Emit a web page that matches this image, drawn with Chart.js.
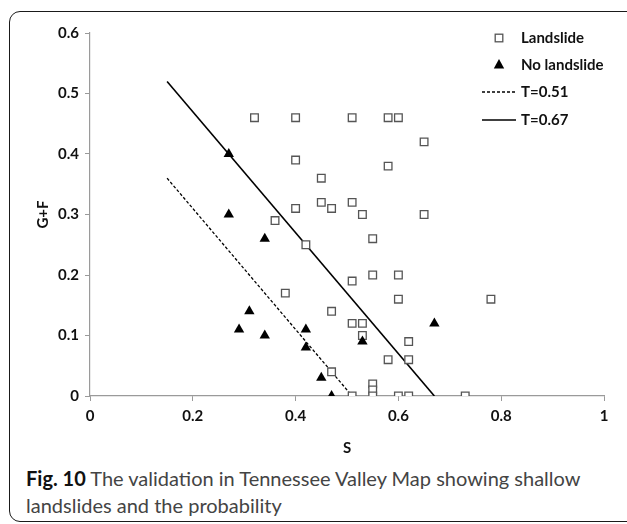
<!DOCTYPE html>
<html>
<head>
<meta charset="utf-8">
<script src="https://cdn.jsdelivr.net/npm/chart.js@4/dist/chart.umd.min.js"></script>
<style>
  html, body { margin: 0; padding: 0; background: #fff; width: 627px; height: 524px; overflow: hidden; }
  #frame { position: absolute; left: 9px; top: 11px; width: 640px; height: 511px; border: 1.5px solid #1a1a1a; border-radius: 11px; box-sizing: border-box; }
  #wrap { position: absolute; left: 0; top: 0; width: 627px; height: 460px; }
  #caption { position: absolute; left: 26px; top: 465px; width: 595px; font-family: Lato, "Open Sans", sans-serif; font-size: 20px; line-height: 27px; color: #444; }
  #caption b { color: #111; font-weight: 700; }
</style>
</head>
<body>
<div id="frame"></div>
<div id="wrap"><canvas id="c" width="627" height="460"></canvas></div>
<div id="caption"><b>Fig. 10</b> The validation in Tennessee Valley Map showing shallow landslides and the probability</div>
<script>
// Observed landslide locations (S, G+F)
const landslideS  = [0.32, 0.40, 0.51, 0.58, 0.60, 0.65, 0.40, 0.58, 0.45, 0.45, 0.51, 0.40, 0.47, 0.53, 0.65, 0.36, 0.55, 0.42, 0.55, 0.60, 0.51, 0.38, 0.60, 0.78, 0.47, 0.51, 0.53, 0.53, 0.62, 0.58, 0.62, 0.47, 0.55, 0.55, 0.51, 0.55, 0.60, 0.62, 0.73];
const landslideGF = [0.46, 0.46, 0.46, 0.46, 0.46, 0.42, 0.39, 0.38, 0.36, 0.32, 0.32, 0.31, 0.31, 0.30, 0.30, 0.29, 0.26, 0.25, 0.20, 0.20, 0.19, 0.17, 0.16, 0.16, 0.14, 0.12, 0.12, 0.10, 0.09, 0.06, 0.06, 0.04, 0.02, 0.01, 0.00, 0.00, 0.00, 0.00, 0.00];

// Locations without landslides
const noLandslideS  = [0.27, 0.27, 0.34, 0.31, 0.29, 0.34, 0.42, 0.42, 0.53, 0.67, 0.45, 0.47];
const noLandslideGF = [0.40, 0.30, 0.26, 0.14, 0.11, 0.10, 0.11, 0.08, 0.09, 0.12, 0.03, 0.00];

// Probability threshold lines
const t051S  = [0.15, 0.51];
const t051GF = [0.36, 0.00];
const t067S  = [0.15, 0.67];
const t067GF = [0.52, 0.00];

// Axis tick values
const xTicks = [0, 0.2, 0.4, 0.6, 0.8, 1];
const yTicks = [0, 0.1, 0.2, 0.3, 0.4, 0.5, 0.6];

const seriesLabels = ['Landslide', 'No landslide', 'T=0.51', 'T=0.67'];

const toPoints = (xs, ys) => xs.map((x, i) => ({ x, y: ys[i] }));
const fmt = v => String(+v.toFixed(1));

const FONT = 'Lato, "Open Sans", sans-serif';
const AXIS = '#9a9a9a';
const tickFont = { family: FONT, size: 15, weight: 'bold' };

// Legend drawn inside the plot area, top right
const insideLegend = {
  id: 'insideLegend',
  afterDraw(chart) {
    const ctx = chart.ctx;
    const mx = 499, tx = 521;
    const rows = [38, 65, 92, 120];
    ctx.save();
    // square marker
    ctx.strokeStyle = '#555';
    ctx.lineWidth = 1.3;
    ctx.fillStyle = '#fff';
    ctx.fillRect(mx - 3.8, rows[0] - 3.8, 7.6, 7.6);
    ctx.strokeRect(mx - 3.8, rows[0] - 3.8, 7.6, 7.6);
    // triangle marker
    ctx.fillStyle = '#000';
    ctx.beginPath();
    ctx.moveTo(mx, rows[1] - 6);
    ctx.lineTo(mx + 5.2, rows[1] + 3.5);
    ctx.lineTo(mx - 5.2, rows[1] + 3.5);
    ctx.closePath();
    ctx.fill();
    // dashed line
    ctx.strokeStyle = '#000';
    ctx.lineWidth = 1.3;
    ctx.setLineDash([3, 2]);
    ctx.beginPath(); ctx.moveTo(482, rows[2]); ctx.lineTo(516, rows[2]); ctx.stroke();
    // solid line
    ctx.setLineDash([]);
    ctx.lineWidth = 1.6;
    ctx.beginPath(); ctx.moveTo(482, rows[3]); ctx.lineTo(516, rows[3]); ctx.stroke();
    // labels
    ctx.fillStyle = '#111';
    ctx.font = 'bold 15px ' + FONT;
    ctx.textAlign = 'left';
    ctx.textBaseline = 'middle';
    seriesLabels.forEach((t, i) => ctx.fillText(t, tx, rows[i]));
    ctx.restore();
  }
};

new Chart(document.getElementById('c'), {
  type: 'scatter',
  data: {
    datasets: [
      {
        label: seriesLabels[0],
        data: toPoints(landslideS, landslideGF),
        pointStyle: 'rect',
        pointRadius: 5.4,
        pointBackgroundColor: '#fff',
        pointBorderColor: '#555',
        pointBorderWidth: 1.3,
        order: 1
      },
      {
        label: seriesLabels[1],
        data: toPoints(noLandslideS, noLandslideGF),
        pointStyle: 'triangle',
        pointRadius: 6,
        pointBackgroundColor: '#000',
        pointBorderColor: '#000',
        pointBorderWidth: 0,
        order: 0
      },
      {
        label: seriesLabels[2],
        type: 'line',
        data: toPoints(t051S, t051GF),
        borderColor: '#000',
        borderWidth: 1.3,
        borderDash: [3, 2],
        pointRadius: 0,
        fill: false,
        order: 2
      },
      {
        label: seriesLabels[3],
        type: 'line',
        data: toPoints(t067S, t067GF),
        borderColor: '#000',
        borderWidth: 1.6,
        pointRadius: 0,
        fill: false,
        order: 2
      }
    ]
  },
  options: {
    responsive: false,
    animation: false,
    layout: { padding: { left: 0, right: 23, top: 33, bottom: 0 } },
    plugins: {
      legend: { display: false },
      tooltip: { enabled: false }
    },
    scales: {
      x: {
        type: 'linear',
        min: 0, max: 1,
        afterBuildTicks: s => { s.ticks = xTicks.map(v => ({ value: v })); },
        afterFit: s => { s.height = 64; },
        ticks: { color: '#111', font: tickFont, padding: 6, callback: fmt },
        grid: { drawOnChartArea: false, drawTicks: true, tickLength: 5, color: AXIS },
        border: { display: true, color: AXIS, width: 1.2 },
        title: { display: true, text: 'S', color: '#111', font: tickFont, padding: { top: 0, bottom: 3 } }
      },
      y: {
        type: 'linear',
        min: 0, max: 0.6,
        afterBuildTicks: s => { s.ticks = yTicks.map(v => ({ value: v })); },
        afterFit: s => { s.width = 90; },
        ticks: { color: '#111', font: tickFont, padding: 6, callback: fmt },
        grid: { drawOnChartArea: false, drawTicks: true, tickLength: 5, color: AXIS },
        border: { display: true, color: AXIS, width: 1.2 },
        title: { display: true, text: 'G+F', color: '#111', font: tickFont, padding: { top: 34, bottom: 0 } }
      }
    }
  },
  plugins: [insideLegend]
});
</script>
</body>
</html>
